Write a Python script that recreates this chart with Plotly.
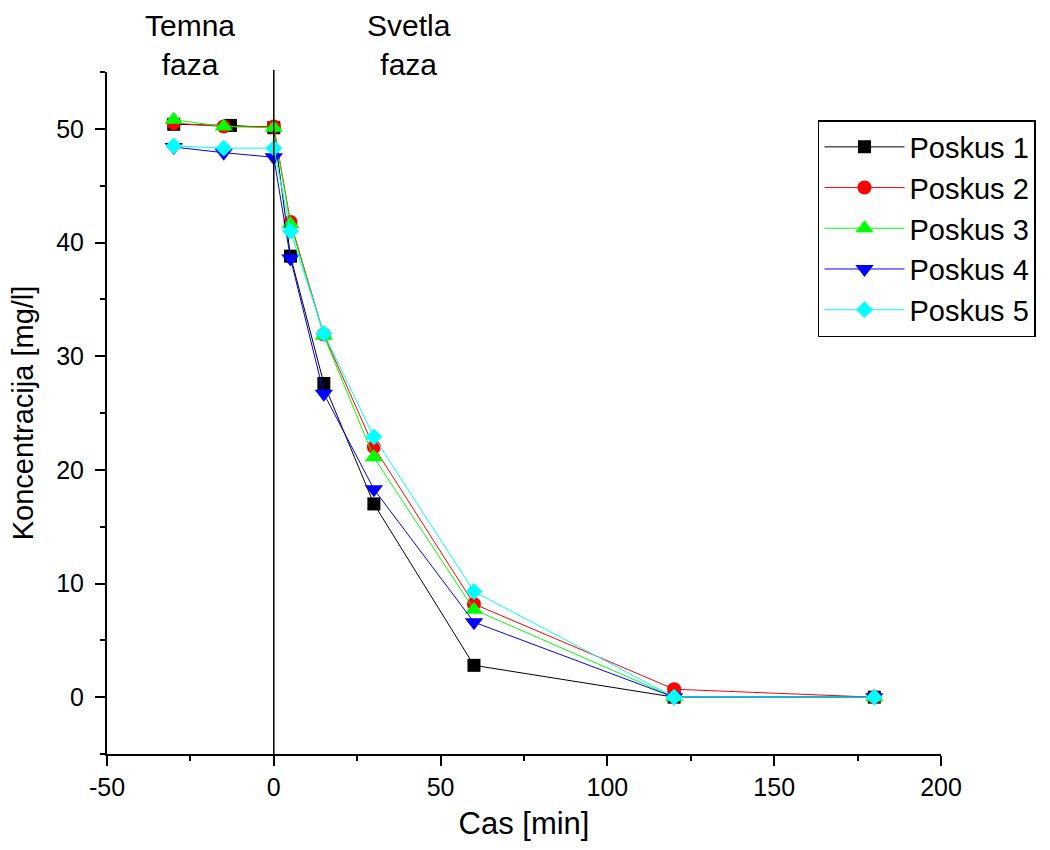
import plotly.graph_objects as go

# Data
time_p1 = [-30, -13, 0, 5, 15, 30, 60, 120, 180]
time = [-30, -15, 0, 5, 15, 30, 60, 120, 180]
poskus1 = [50.4, 50.3, 50.1, 38.8, 27.6, 17.0, 2.8, 0.0, 0.0]
poskus2 = [50.5, 50.2, 50.2, 41.8, 31.9, 22.0, 8.2, 0.7, 0.0]
poskus3 = [50.8, 50.2, 50.1, 41.6, 31.8, 21.1, 7.7, 0.0, 0.0]
poskus4 = [48.4, 47.9, 47.5, 38.6, 26.7, 18.3, 6.6, 0.0, 0.0]
poskus5 = [48.5, 48.3, 48.3, 41.0, 32.0, 22.9, 9.3, 0.0, 0.0]

names = ["Poskus 1", "Poskus 2", "Poskus 3", "Poskus 4", "Poskus 5"]
x_ticks = [-50, 0, 50, 100, 150, 200]
x_ticklabels = ["-50", "0", "50", "100", "150", "200"]
y_ticks = [0, 10, 20, 30, 40, 50]

colors = ["#000000", "#FF0000", "#00FF00", "#0000FF", "#00FFFF"]
symbols = ["square", "circle", "triangle-up", "triangle-down", "diamond"]
sizes = [13, 14, 16, 16, 13]
xs = [time_p1, time, time, time, time]
ys = [poskus1, poskus2, poskus3, poskus4, poskus5]

FONT = "Liberation Sans, Arial, sans-serif"

fig = go.Figure()
for x, y, n, c, s, sz in zip(xs, ys, names, colors, symbols, sizes):
    fig.add_trace(go.Scatter(
        x=x, y=y, name=n, mode="lines+markers",
        line=dict(color=c, width=1),
        marker=dict(symbol=s, size=sz, color=c, line=dict(width=0)),
    ))

# vertical separator at t=0
fig.add_shape(type="line", xref="x", yref="paper", x0=0, x1=0, y0=0, y1=1.003,
              line=dict(color="black", width=1.5))

fig.add_annotation(x=-25, xref="x", y=1.04, yref="paper", text="Temna<br>faza",
                   showarrow=False, yanchor="middle", xanchor="center",
                   font=dict(family=FONT, size=30, color="black"))
fig.add_annotation(x=40.5, xref="x", y=1.04, yref="paper", text="Svetla<br>faza",
                   showarrow=False, yanchor="middle", xanchor="center",
                   font=dict(family=FONT, size=30, color="black"))

fig.update_layout(
    width=1050, height=850,
    margin=dict(l=107, r=109, t=72, b=96),
    paper_bgcolor="white", plot_bgcolor="white",
    font=dict(family=FONT, color="black"),
    legend=dict(
        x=0.8525, y=0.9296, xanchor="left", yanchor="top",
        bordercolor="black", borderwidth=1.5, bgcolor="white",
        font=dict(family=FONT, size=29, color="black"),
        itemwidth=80, tracegroupgap=0,
    ),
    xaxis=dict(
        range=[-50, 200], tickvals=x_ticks, ticktext=x_ticklabels,
        showgrid=False, zeroline=False, showline=True, linecolor="black", linewidth=2,
        ticks="outside", ticklen=10, tickwidth=2, tickcolor="black",
        minor=dict(tickvals=[-25, 25, 75, 125, 175], ticks="outside", ticklen=5, tickwidth=2, tickcolor="black", showgrid=False),
        tickfont=dict(family=FONT, size=25, color="black"),
        title=dict(text="Cas [min]", font=dict(family=FONT, size=31, color="black"), standoff=12),
    ),
    yaxis=dict(
        range=[-5, 55], tickvals=y_ticks,
        showgrid=False, zeroline=False, showline=True, linecolor="black", linewidth=2,
        ticks="outside", ticklen=10, tickwidth=2, tickcolor="black",
        minor=dict(tickvals=[-5, 5, 15, 25, 35, 45, 55], ticks="outside", ticklen=5, tickwidth=2, tickcolor="black", showgrid=False),
        tickfont=dict(family=FONT, size=25, color="black"),
        ticklabelstandoff=6,
        title=dict(text="Koncentracija [mg/l]", font=dict(family=FONT, size=29, color="black"), standoff=14),
    ),
)

fig.write_html("out.html")
